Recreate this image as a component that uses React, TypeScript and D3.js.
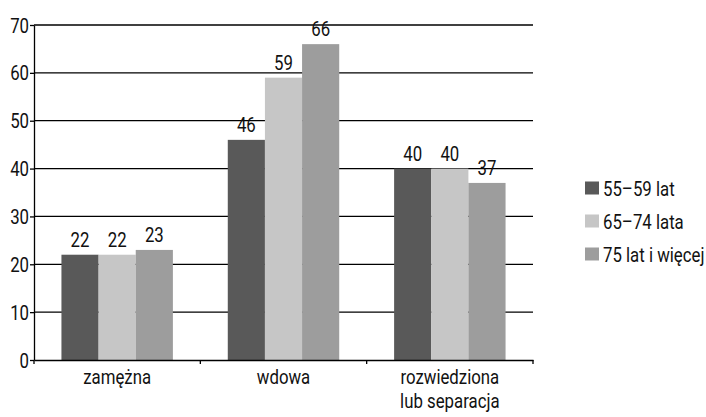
import * as d3 from "d3";
import React, { useEffect, useRef } from "react";

// categories (x axis), series and values
const categories = ["zamężna", "wdowa", "rozwiedziona\nlub separacja"];
const seriesNames = ["55–59 lat", "65–74 lata", "75 lat i więcej"];
const seriesColors = ["#595959", "#c6c6c6", "#9d9d9d"];
const values55 = [22, 46, 40];
const values65 = [22, 59, 40];
const values75 = [23, 66, 37];
const yTicks = [0, 10, 20, 30, 40, 50, 60, 70];

const FONT = "Roboto, 'DejaVu Sans Condensed', sans-serif";
const FONT_SIZE = "21px";
const SQUEEZE = 0.8; // horizontal squeeze to mimic a condensed face

const App: React.FC = () => {
  const ref = useRef<SVGSVGElement>(null);

  useEffect(() => {
    if (!ref.current) return;
    const svg = d3.select(ref.current);
    svg.selectAll("*").remove();

    const width = 706,
      height = 417,
      margin = { top: 25, right: 173, bottom: 57, left: 34 };

    const series = [values55, values65, values75];

    // places a condensed text at (x, y)
    const label = (
      g: d3.Selection<any, any, any, any>,
      xp: number,
      yp: number,
      anchor: string
    ) =>
      g
        .append("text")
        .attr("transform", `translate(${xp},${yp}) scale(${SQUEEZE},1)`)
        .attr("text-anchor", anchor)
        .style("font-family", FONT)
        .style("font-size", FONT_SIZE)
        .style("fill", "#111");

    // category bands
    const x = d3
      .scaleBand()
      .domain(categories)
      .range([margin.left, width - margin.right])
      .padding(0);
    const bw = x.bandwidth();

    // bars within one category
    const xs = d3
      .scaleBand()
      .domain(seriesNames)
      .range([bw * 0.165, bw * 0.835])
      .padding(0);

    const y = d3
      .scaleLinear()
      .domain([0, 70])
      .range([height - margin.bottom, margin.top]);

    // gridlines
    svg
      .append("g")
      .selectAll("line")
      .data(yTicks.filter((t) => t > 0))
      .enter()
      .append("line")
      .attr("x1", margin.left)
      .attr("x2", width - margin.right)
      .attr("y1", (d) => y(d))
      .attr("y2", (d) => y(d))
      .attr("stroke", "#000")
      .attr("stroke-width", 1.3);

    // bars + value labels
    categories.forEach((c, i) => {
      const g = svg.append("g").attr("transform", `translate(${x(c)},0)`);
      series.forEach((s, j) => {
        g.append("rect")
          .attr("x", xs(seriesNames[j])!)
          .attr("width", xs.bandwidth())
          .attr("y", y(s[i]))
          .attr("height", y(0) - y(s[i]))
          .attr("fill", seriesColors[j]);
        label(g, xs(seriesNames[j])! + xs.bandwidth() / 2, y(s[i]) - 8, "middle").text(s[i]);
      });
    });

    // y axis
    const yAxis = svg
      .append("g")
      .attr("transform", `translate(${margin.left},0)`)
      .call(d3.axisLeft(y).tickValues(yTicks).tickSize(4).tickFormat(() => "").tickSizeOuter(0));
    yAxis.select(".domain").attr("stroke", "#000").attr("stroke-width", 1.3);
    yAxis.selectAll(".tick line").attr("stroke", "#000").attr("stroke-width", 1.3);
    yAxis.selectAll(".tick text").remove();
    yTicks.forEach((t) => {
      label(svg, margin.left - 5, y(t) + 7.5, "end").text(t);
    });

    // x axis baseline
    const xAxis = svg
      .append("g")
      .attr("transform", `translate(0,${y(0)})`)
      .call(d3.axisBottom(x).tickSize(0).tickFormat(() => ""));
    xAxis.select(".domain").attr("stroke", "#000").attr("stroke-width", 1.3);
    xAxis.selectAll(".tick").remove();

    // category boundary ticks
    svg
      .append("g")
      .selectAll("line")
      .data(categories.map((c) => x(c)!).concat([x(categories[categories.length - 1])! + bw]))
      .enter()
      .append("line")
      .attr("x1", (d) => d)
      .attr("x2", (d) => d)
      .attr("y1", y(0))
      .attr("y2", y(0) + 4)
      .attr("stroke", "#000")
      .attr("stroke-width", 1.3);

    // category labels
    categories.forEach((c) => {
      c.split("\n").forEach((line, k) => {
        label(svg, x(c)! + bw / 2, y(0) + 24 + k * 24, "middle").text(line);
      });
    });

    // legend
    seriesNames.forEach((name, i) => {
      const g = svg.append("g").attr("transform", `translate(585,${188 + i * 33})`);
      g.append("rect")
        .attr("x", 0)
        .attr("y", -6.5)
        .attr("width", 14)
        .attr("height", 13)
        .attr("fill", seriesColors[i]);
      label(g, 18, 7.5, "start").text(name);
    });
  }, []);

  return (
    <svg
      ref={ref}
      width={706}
      height={417}
      style={{ position: "absolute", left: 0, top: 0, background: "#fff" }}
    />
  );
};

export default App;
